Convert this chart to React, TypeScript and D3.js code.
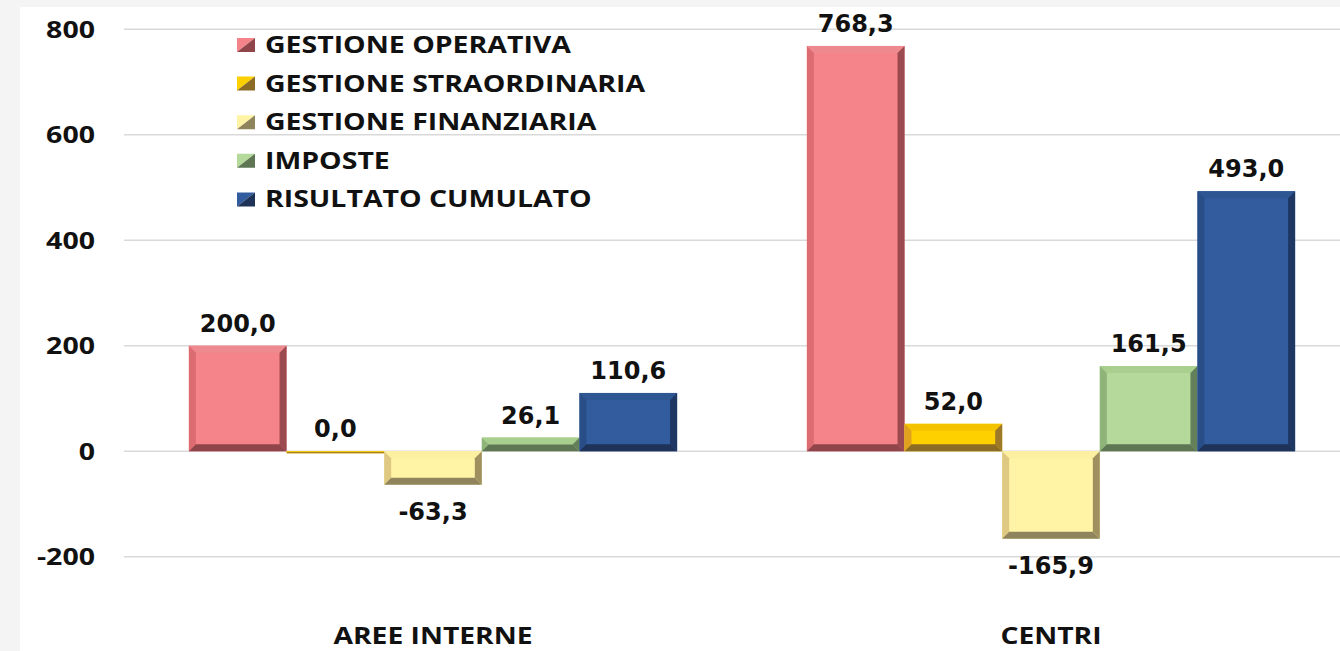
import React from 'react';
import * as d3 from 'd3';

// categories and series values
const categories = ['AREE INTERNE', 'CENTRI'];
const seriesNames = [
  'GESTIONE OPERATIVA',
  'GESTIONE STRAORDINARIA',
  'GESTIONE FINANZIARIA',
  'IMPOSTE',
  'RISULTATO CUMULATO',
];
const operativa = [200.0, 768.3];
const straordinaria = [0.0, 52.0];
const finanziaria = [-63.3, -165.9];
const imposte = [26.1, 161.5];
const risultato = [110.6, 493.0];
const yTicks = [-200, 0, 200, 400, 600, 800];

const values = [operativa, straordinaria, finanziaria, imposte, risultato];

// face, top, left, right, bottom
const palettes = [
  { face: '#F4848A', top: '#EE8A8F', left: '#DD6C72', right: '#9B4A50', bottom: '#8F4549' },
  { face: '#FFD000', top: '#F4C300', left: '#E0A21E', right: '#9E7A28', bottom: '#8C6B25' },
  { face: '#FFF4A6', top: '#FCEFA0', left: '#DFC982', right: '#A09060', bottom: '#8F845C' },
  { face: '#B5D99B', top: '#A9CF8F', left: '#8EB47A', right: '#64805A', bottom: '#5E7653' },
  { face: '#335C9F', top: '#2E5693', left: '#284D87', right: '#1E3763', bottom: '#1F3358' },
];

const W = 1340;
const H = 651;
const labelFont = '"Open Sans", sans-serif';
const valueFont = '"DejaVu Sans", Verdana, sans-serif';

const fmt = (v: number) => v.toFixed(1).replace('.', ',');

function Bevel({ x0, x1, y0, y1, c }: any) {
  const w = x1 - x0;
  const h = Math.max(y1 - y0, 2);
  y1 = y0 + h;
  const b = Math.min(7, w / 2, h / 2);
  const p = (pts: number[][]) => pts.map((d) => d.join(',')).join(' ');
  return (
    <g>
      <rect x={x0} y={y0} width={w} height={h} fill={c.face} />
      <polygon points={p([[x0, y0], [x1, y0], [x1 - b, y0 + b], [x0 + b, y0 + b]])} fill={c.top} />
      <polygon points={p([[x0, y0], [x0 + b, y0 + b], [x0 + b, y1 - b], [x0, y1]])} fill={c.left} />
      <polygon points={p([[x1, y0], [x1, y1], [x1 - b, y1 - b], [x1 - b, y0 + b]])} fill={c.right} />
      <polygon points={p([[x0, y1], [x0 + b, y1 - b], [x1 - b, y1 - b], [x1, y1]])} fill={c.bottom} />
    </g>
  );
}

function StretchText({ x, y, anchor, size, sx, children }: any) {
  return (
    <g transform={`translate(${x},${y}) scale(${sx},1)`}>
      <text x={0} y={0} textAnchor={anchor} fontFamily={labelFont} fontWeight={700} fontSize={size} fill="#111">
        {children}
      </text>
    </g>
  );
}

export default function App() {
  const y = d3.scaleLinear().domain([-200, 800]).range([556.8, 29.2]);
  const x0 = d3.scaleBand<string>().domain(categories).range([124, 1360]).paddingInner(0.21).paddingOuter(0.105);
  const x1 = d3.scaleBand<string>().domain(seriesNames).range([0, x0.bandwidth()]);

  return (
    <svg width={W} height={H} style={{ position: 'absolute', left: 0, top: 0 }}>
      <rect width={W} height={H} fill="#f4f4f4" />
      <rect x={20} y={7} width={W - 20} height={H - 7} fill="#ffffff" />

      {yTicks.map((t) => (
        <g key={t}>
          <line x1={124} x2={W} y1={y(t)} y2={y(t)} stroke="#d9d9d9" strokeWidth={1.5} />
          <StretchText x={95} y={y(t) + 8.5} anchor="end" size={23} sx={1.24}>
            {t}
          </StretchText>
        </g>
      ))}

      {categories.map((cat, ci) => (
        <g key={cat}>
          {seriesNames.map((s, si) => {
            const v = values[si][ci];
            const bx = (x0(cat) ?? 0) + (x1(s) ?? 0);
            const bw = x1.bandwidth();
            const top = y(Math.max(0, v));
            const bot = y(Math.min(0, v));
            const ly = v >= 0 ? top - 14 : bot + 35;
            return (
              <g key={s}>
                <Bevel x0={bx} x1={bx + bw} y0={top} y1={bot} c={palettes[si]} />
                <text
                  x={bx + bw / 2}
                  y={ly}
                  textAnchor="middle"
                  fontFamily={valueFont}
                  fontWeight={700}
                  fontSize={24}
                  fill="#111"
                >
                  {fmt(v)}
                </text>
              </g>
            );
          })}
          <StretchText x={(x0(cat) ?? 0) + x0.bandwidth() / 2} y={644} anchor="middle" size={23} sx={1.23}>
            {cat}
          </StretchText>
        </g>
      ))}

      {seriesNames.map((s, i) => {
        const by = 53 + i * 38.6;
        const c = palettes[i];
        const mx = 237;
        const my = by - 15;
        return (
          <g key={s}>
            <polygon points={`${mx},${my} ${mx + 18},${my} ${mx},${my + 14}`} fill={c.face} />
            <polygon points={`${mx + 18},${my} ${mx + 18},${my + 14} ${mx},${my + 14}`} fill={c.bottom} />
            <StretchText x={265} y={by} anchor="start" size={22.4} sx={1.27}>
              {s}
            </StretchText>
          </g>
        );
      })}
    </svg>
  );
}
